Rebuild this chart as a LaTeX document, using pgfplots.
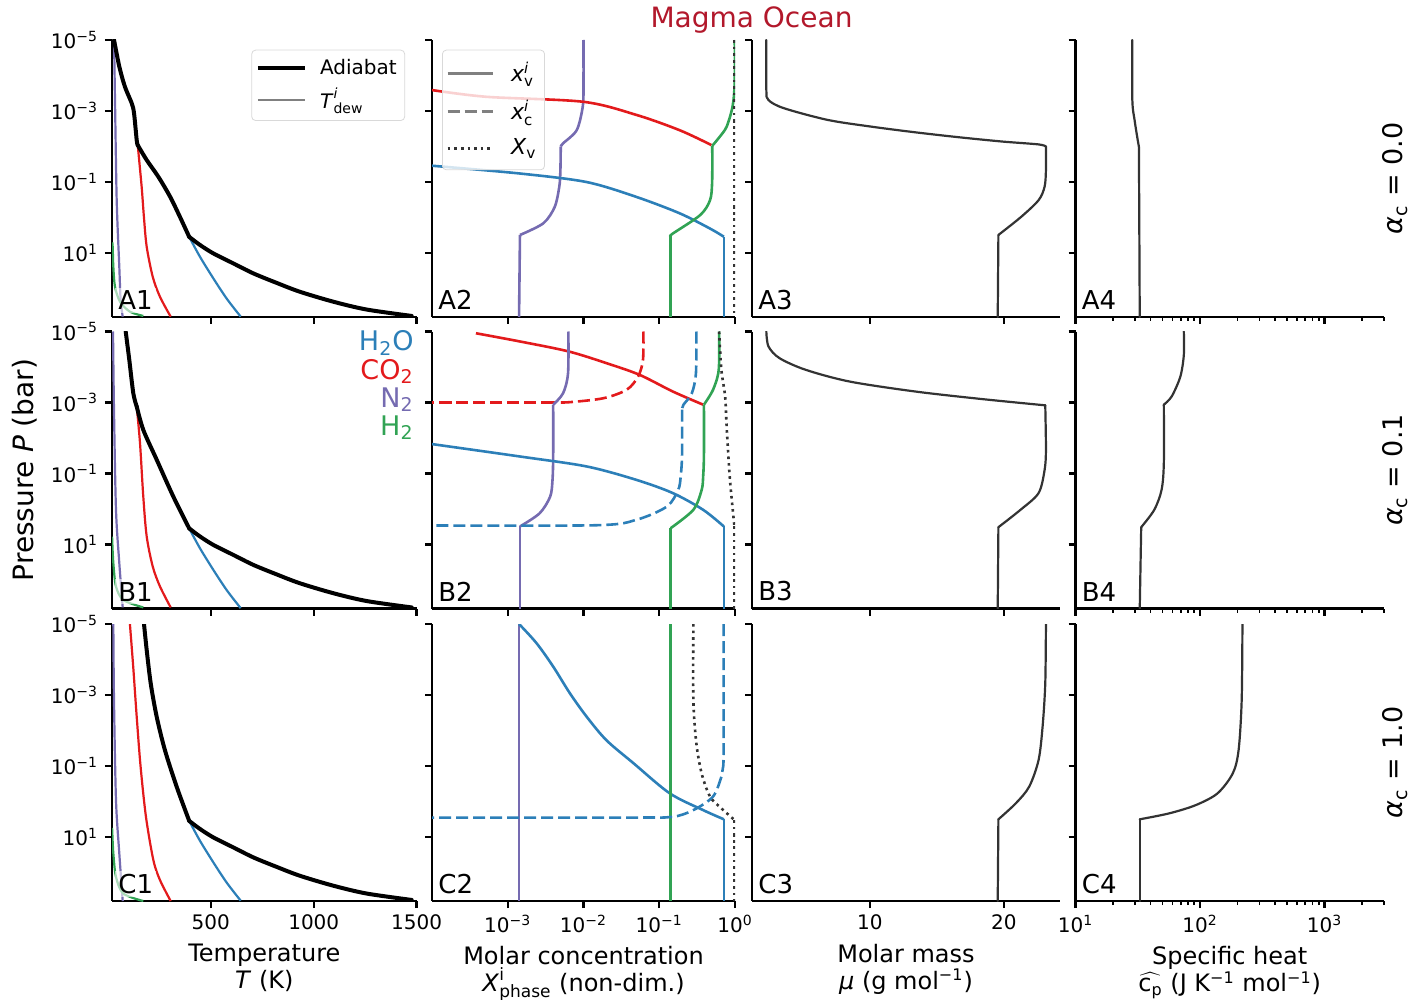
\documentclass[border=0pt]{standalone}
\usepackage{fontspec}
\setmainfont{DejaVu Sans}
\usepackage{pgfplots}
\pgfplotsset{compat=1.18}

\definecolor{cwat}{HTML}{2C7FB8}
\definecolor{cco2}{HTML}{E31A1C}
\definecolor{cn2}{HTML}{756BB1}
\definecolor{ch2}{HTML}{31A354}
\definecolor{ctitle}{HTML}{B2182B}
\definecolor{cdark}{HTML}{333333}

\newcommand{\tk}[1]{10\textsuperscript{#1}}
% symbol with stacked superscript and subscript: {size}{base}{sup}{sub}
\newcommand{\supsub}[4]{\ensuremath{\mbox{#2}^{\mbox{\fontsize{#1}{#1}\selectfont #3}}_{\mbox{\fontsize{#1}{#1}\selectfont #4}}}}

\pgfplotsset{
  every axis/.append style={
    scale only axis, height=138.5pt, anchor=north west,
    axis x line*=bottom, axis y line*=left,
    axis line style={-, line width=1.2pt},
    tick style={black, line width=1.2pt},
    minor tick style={line width=0.9pt},
    major tick length=3.5pt, minor tick length=2pt,
    tick align=outside,
    ymode=log, y dir=reverse, ymin=1e-5, ymax=631,
    ytick={1e-5,1e-3,1e-1,10}, yminorticks=false,
    tick label style={font=\fontsize{10}{12}\selectfont},
    label style={font=\fontsize{12}{13.5}\selectfont, align=center},
    clip mode=individual,
  },
}
\tikzset{
  adi/.style={black, line width=2pt, line join=round, line cap=round, smooth, tension=0.5},
  dew/.style={line width=1.1pt, line join=round, smooth, tension=0.5},
  xv/.style={line width=1.3pt, line join=round, smooth, tension=0.5},
  xc/.style={line width=1.3pt, dash pattern=on 6pt off 2.5pt, smooth, tension=0.5},
  Xv/.style={cdark, line width=1.3pt, dash pattern=on 1.3pt off 2pt, smooth, tension=0.5},
  prof/.style={cdark, line width=1.1pt, line join=round, line cap=round, smooth, tension=0.5},
  plab/.style={anchor=south west, font=\fontsize{13}{15}\selectfont, fill=white,
    fill opacity=0.6, text opacity=1, inner sep=1.5pt, xshift=1.5pt, yshift=2pt},
  rlab/.style={rotate=90, font=\fontsize{13.5}{16}\selectfont},
  spc/.style={anchor=east, font=\fontsize{13.5}{16}\selectfont, inner sep=0pt},
}

\begin{document}
\begin{tikzpicture}
\useasboundingbox (0,0) rectangle (710pt,-500pt);
\node[font=\fontsize{14}{16}\selectfont, text=ctitle] at (375.75pt,-10pt) {Magma Ocean};

% ---------------- row A ----------------
\begin{axis}[at={(56pt,-20pt)}, width=152.35pt, xmin=20, xmax=1500, xtick={500,1000,1500},
  xticklabels={}, yticklabels={\tk{−5},\tk{−3},\tk{−1},\tk{1}},
  legend style={at={(0.962,0.965)}, anchor=north east, draw=black!15, rounded corners=2pt,
    fill=white, fill opacity=0.8, text opacity=1, draw opacity=1,
    font=\fontsize{10}{12}\selectfont, row sep=1.5pt, inner ysep=2.5pt, inner xsep=2pt,
    cells={anchor=west}},
  legend image code/.code={\draw[#1] (0pt,0pt) -- (23.5pt,0pt); \path (28pt,0pt);}]
\addlegendimage{black, line width=2.2pt}\addlegendentry{Adiabat}
\addlegendimage{gray, line width=1.2pt}\addlegendentry{\supsub{7}{\textit{T}}{\textit{i}}{dew}}
\addplot[dew, cwat] coordinates {(395,3.5) (447,12.6) (512,51.3) (577,191) (645,617)};
\addplot[dew, cco2] coordinates {(145,9.12e-3) (164,0.135) (175,0.955) (188.5,6.61) (218,46.8) (253,170) (305,617)};
\addplot[dew, cn2] coordinates {(30,1e-5) (34.6,4.9e-4) (42.8,0.324) (55.5,24.5) (62,209) (72,617)};
\addplot[dew, ch2] coordinates {(21,5.0) (23.3,6.61) (26.5,24.5) (34.6,89.1) (59,234) (107,447) (172,589)};
\addplot[adi] coordinates {(30,1e-5) (55.5,5.62e-5) (83,2.09e-4) (115.7,6.03e-4) (127,1.15e-3) (140,6.61e-3) (145,9.12e-3)};
\addplot[adi] coordinates {(145,9.12e-3) (188.5,2.40e-2) (245,7.08e-2) (302,0.257) (350,0.955) (395,3.5)};
\addplot[adi] coordinates {(395,3.5) (447,5.89) (512,10.2) (609,19.5) (706,37.2) (820,69.2) (933,123) (1095,234) (1257,389) (1476,589)};
\node[plab] at (axis description cs:0,0) {A1};
\end{axis}

\begin{axis}[at={(216pt,-20pt)}, width=151.5pt, xmode=log, xmin=1e-4, xmax=1,
  xtick={1e-3,1e-2,1e-1,1}, xminorticks=false, xticklabels={}, yticklabels={},
  legend style={at={(0.033,0.965)}, anchor=north west, draw=black!15, rounded corners=2pt,
    fill=white, fill opacity=0.8, text opacity=1, draw opacity=1,
    font=\fontsize{11}{13}\selectfont, row sep=4pt, inner ysep=4pt, inner xsep=2pt,
    cells={anchor=west}},
  legend image code/.code={\draw[#1] (0pt,0pt) -- (22.5pt,0pt); \path (29pt,0pt);}]
\addlegendimage{gray, line width=1.3pt}\addlegendentry{\supsub{7.5}{\textit{x}}{\textit{i}}{v}\hspace{5pt}}
\addlegendimage{gray, line width=1.3pt, dash pattern=on 6pt off 2.5pt}\addlegendentry{\supsub{7.5}{\textit{x}}{\textit{i}}{c}\hspace{5pt}}
\addlegendimage{cdark, line width=1.3pt, dash pattern=on 1.3pt off 2pt}\addlegendentry{\textit{X}\textsubscript{v}\hspace{5pt}}
\addplot[xv, cn2] coordinates {(0.0100,1e-5) (0.0100,2e-4) (0.00977,7.59e-4) (0.00813,3.47e-3) (0.00537,8.13e-3) (0.00501,1e-2)};
\addplot[xv, cn2] coordinates {(0.00501,1e-2) (0.00495,5e-2) (0.00479,0.135) (0.00417,0.501) (0.00295,1.45) (0.00145,3.09)};
\addplot[xv, cn2] coordinates {(0.00145,3.09) (0.00141,631)};
\addplot[xv, cco2] coordinates {(1e-4,2.57e-4) (5.25e-4,3.98e-4) (0.0100,5.50e-4) (0.0501,1.29e-3) (0.186,3.47e-3) (0.490,9.12e-3)};
\addplot[xv, cwat] coordinates {(1e-4,3.47e-2) (1.45e-3,5.75e-2) (0.011,0.1) (0.0501,0.263) (0.186,0.759) (0.468,2.04) (0.713,3.47)};
\addplot[xv, cwat] coordinates {(0.713,3.47) (0.713,631)};
\addplot[xv, ch2] coordinates {(0.993,1e-5) (0.99,1.66e-4) (0.927,7.59e-4) (0.776,2.75e-3) (0.631,5.25e-3) (0.501,9.55e-3)};
\addplot[xv, ch2] coordinates {(0.501,9.55e-3) (0.499,0.1) (0.468,0.324) (0.347,0.851) (0.151,2.82) (0.141,3.31)};
\addplot[xv, ch2] coordinates {(0.141,3.31) (0.141,631)};
\addplot[Xv] coordinates {(0.985,1e-5) (0.985,631)};
\node[plab] at (axis description cs:0,0) {A2};
\end{axis}

\begin{axis}[at={(376pt,-20pt)}, width=154pt, xmin=1.2, xmax=24.2, xtick={10,20},
  xticklabels={}, yticklabels={}]
\addplot[prof] coordinates {(2.27,1e-5) (2.27,2.5e-4) (2.43,4.90e-4) (3.58,8.32e-4) (6.85,1.78e-3) (10.1,2.75e-3) (13.4,3.98e-3) (16.7,5.50e-3) (19.9,7.24e-3) (22.6,8.71e-3) (23.15,1e-2)};
\addplot[prof] coordinates {(23.15,1e-2) (23.15,4.57e-2) (23.05,0.135) (22.6,0.324) (21.3,0.955) (19.6,3.09)};
\addplot[prof] coordinates {(19.6,3.09) (19.55,631)};
\node[plab] at (axis description cs:0,0) {A3};
\end{axis}

\begin{axis}[at={(537.75pt,-20pt)}, width=154.25pt, xmode=log, xmin=10, xmax=3000,
  xtick={10,100,1000},
  minor xtick={20,30,40,50,60,70,80,90,200,300,400,500,600,700,800,900,2000,3000},
  xticklabels={}, yticklabels={}]
\addplot[prof] coordinates {(28.6,1e-5) (28.6,4.9e-4) (29.8,1.78e-3) (31.6,6.61e-3) (32.3,1e-2)};
\addplot[prof] coordinates {(32.3,1e-2) (32.8,631)};
\node[plab] at (axis description cs:0,0) {A4};
\node[rlab] at (axis description cs:1.036,0.5) {\textit{α}\textsubscript{c} = 0.0};
\end{axis}

% ---------------- row B ----------------
\begin{axis}[at={(56pt,-165.75pt)}, width=152.35pt, xmin=20, xmax=1500, xtick={500,1000,1500},
  xticklabels={}, yticklabels={\tk{−5},\tk{−3},\tk{−1},\tk{1}},
  ylabel={Pressure \textit{P} (bar)},
  ylabel style={font=\fontsize{14}{16}\selectfont}]
\addplot[dew, cwat] coordinates {(395,3.5) (447,12.6) (512,51.3) (577,191) (645,617)};
\addplot[dew, cco2] coordinates {(140,1.29e-3) (156,1.38e-2) (172,0.447) (188.5,5.89) (218,41.7) (253,151) (305,589)};
\addplot[dew, cn2] coordinates {(25,1e-5) (29.7,1.62e-3) (39.4,1.05) (55.5,33.1) (72,589)};
\addplot[dew, ch2] coordinates {(20.5,6.0) (21.6,9.12) (26.5,33.1) (39.4,151) (75,363) (172,589)};
\addplot[adi] coordinates {(86.5,1e-5) (104,6.3e-5) (123.5,5.50e-4) (140,1.29e-3)};
\addplot[adi] coordinates {(140,1.29e-3) (172,5.89e-3) (237,4.07e-2) (318,0.447) (395,3.5)};
\addplot[adi] coordinates {(395,3.5) (447,5.89) (512,10.2) (609,19.5) (706,37.2) (820,69.2) (933,123) (1095,234) (1257,389) (1476,589)};
\node[plab] at (axis description cs:0,0) {B1};
\node[spc, text=cwat] at (axis description cs:0.991,0.959) {H\textsubscript{2}O};
\node[spc, text=cco2] at (axis description cs:0.991,0.855) {CO\textsubscript{2}};
\node[spc, text=cn2] at (axis description cs:0.991,0.753) {N\textsubscript{2}};
\node[spc, text=ch2] at (axis description cs:0.991,0.652) {H\textsubscript{2}};
\end{axis}

\begin{axis}[at={(216pt,-165.75pt)}, width=151.5pt, xmode=log, xmin=1e-4, xmax=1,
  xtick={1e-3,1e-2,1e-1,1}, xminorticks=false, xticklabels={}, yticklabels={}]
\addplot[xv, cco2] coordinates {(3.80e-4,1.12e-5) (1.45e-3,1.91e-5) (6.31e-3,3.63e-5) (0.0200,7.76e-5) (0.0550,1.66e-4) (0.151,4.90e-4) (0.380,1.15e-3)};
\addplot[xc, cco2] coordinates {(0.0617,1e-5) (0.0610,6.31e-5) (0.0525,1.86e-4) (0.0372,4.37e-4) (0.0182,7.59e-4) (6.61e-3,9.77e-4) (3.98e-3,1e-3)};
\addplot[xc, cco2] coordinates {(3.98e-3,1e-3) (1e-4,1e-3)};
\addplot[xv, cn2] coordinates {(6.31e-3,1e-5) (6.25e-3,1.5e-4) (5.37e-3,5.50e-4) (3.98e-3,1.15e-3)};
\addplot[xv, cn2] coordinates {(3.98e-3,1.15e-3) (3.98e-3,3e-2) (3.9e-3,0.15) (3.63e-3,0.447) (2.63e-3,1.32) (1.45e-3,3.09)};
\addplot[xv, cn2] coordinates {(1.45e-3,3.09) (1.45e-3,631)};
\addplot[xv, cwat] coordinates {(1e-4,1.48e-2) (1.45e-3,3.31e-2) (0.011,6.31e-2) (0.0501,0.151) (0.151,0.355) (0.380,1.05) (0.713,3.09)};
\addplot[xv, cwat] coordinates {(0.713,3.09) (0.713,631)};
\addplot[xc, cwat] coordinates {(0.309,1e-5) (0.305,1.5e-4) (0.269,5.50e-4) (0.209,1.15e-3) (0.200,1.58e-3)};
\addplot[xc, cwat] coordinates {(0.200,1.58e-3) (0.200,3e-2) (0.192,0.12) (0.178,0.288) (0.126,0.851) (0.0501,2.0) (0.015,2.85) (1e-4,2.9)};
\addplot[xv, ch2] coordinates {(0.617,1e-5) (0.610,1.20e-4) (0.513,4.37e-4) (0.389,1.15e-3)};
\addplot[xv, ch2] coordinates {(0.389,1.15e-3) (0.389,3e-2) (0.380,0.12) (0.363,0.288) (0.282,1.05) (0.141,3.47)};
\addplot[xv, ch2] coordinates {(0.141,3.47) (0.141,631)};
\addplot[Xv] coordinates {(0.617,1e-5) (0.661,1.20e-4) (0.741,6.76e-4) (0.776,4.79e-3) (0.851,0.120) (0.944,1.32) (0.985,3.09)};
\addplot[Xv] coordinates {(0.985,3.09) (0.985,631)};
\node[plab] at (axis description cs:0,0) {B2};
\end{axis}

\begin{axis}[at={(376pt,-165.75pt)}, width=154pt, xmin=1.2, xmax=24.2, xtick={10,20},
  xticklabels={}, yticklabels={}]
\addplot[prof] coordinates {(2.27,1e-5) (2.43,2.63e-5) (3.25,5.62e-5) (5.21,1.20e-4) (8.5,2.57e-4) (13.4,4.90e-4) (18.3,7.94e-4) (23.1,1.20e-3)};
\addplot[prof] coordinates {(23.1,1.20e-3) (23.15,2.14e-2) (23.05,7.94e-2) (22.6,0.355) (21.25,1.05) (19.6,3.24)};
\addplot[prof] coordinates {(19.6,3.24) (19.55,631)};
\node[plab] at (axis description cs:0,0) {B3};
\end{axis}

\begin{axis}[at={(537.75pt,-165.75pt)}, width=154.25pt, xmode=log, xmin=10, xmax=3000,
  xtick={10,100,1000},
  minor xtick={20,30,40,50,60,70,80,90,200,300,400,500,600,700,800,900,2000,3000},
  xticklabels={}, yticklabels={}]
\addplot[prof] coordinates {(74.1,1e-5) (74.1,4.57e-5) (69.5,1.86e-4) (59.2,6.76e-4) (51.2,1.15e-3)};
\addplot[prof] coordinates {(51.2,1.15e-3) (51.2,5.13e-2) (49.1,0.288) (42.9,1.05) (33.7,3.24)};
\addplot[prof] coordinates {(33.7,3.24) (32.8,631)};
\node[plab] at (axis description cs:0,0) {B4};
\node[rlab] at (axis description cs:1.036,0.5) {\textit{α}\textsubscript{c} = 0.1};
\end{axis}

% ---------------- row C ----------------
\begin{axis}[at={(56pt,-312pt)}, width=152.35pt, xmin=20, xmax=1500, xtick={500,1000,1500},
  xticklabels={500,1000,1500}, yticklabels={\tk{−5},\tk{−3},\tk{−1},\tk{1}},
  xlabel={Temperature\\\textit{T} (K)}]
\addplot[dew, cwat] coordinates {(395,3.5) (447,12.6) (512,51.3) (577,191) (645,617)};
\addplot[dew, cco2] coordinates {(107,1e-5) (123,1.58e-4) (140,4.07e-3) (159,0.105) (185,2.69) (221,44.7) (253,162) (305,631)};
\addplot[dew, cn2] coordinates {(26.5,1e-5) (29.7,1.38e-3) (39.4,0.912) (55.5,28.8) (72,631)};
\addplot[dew, ch2] coordinates {(20.5,5.5) (21.6,7.94) (26.5,28.8) (39.4,132) (75,389) (172,631)};
\addplot[adi] coordinates {(175.4,1e-5) (188.5,5.37e-5) (208,4.68e-4) (237,4.07e-3) (277,3.55e-2) (334,0.380) (395,3.5)};
\addplot[adi] coordinates {(395,3.5) (447,5.89) (512,10.2) (609,19.5) (706,37.2) (820,69.2) (933,123) (1095,234) (1257,389) (1476,589)};
\node[plab] at (axis description cs:0,0) {C1};
\end{axis}

\begin{axis}[at={(216pt,-312pt)}, width=151.5pt, xmode=log, xmin=1e-4, xmax=1,
  xtick={1e-3,1e-2,1e-1,1}, xminorticks=false, yticklabels={},
  xticklabels={\tk{−3},\tk{−2},\tk{−1},\tk{0}},
  xlabel={Molar concentration\\\supsub{8.5}{\textit{X}}{i}{phase} (non-dim.)}]
\addplot[xv, cn2] coordinates {(1.41e-3,1e-5) (1.41e-3,631)};
\addplot[xv, cwat] coordinates {(1.41e-3,1e-5) (2.40e-3,3.47e-5) (3.98e-3,1.58e-4) (6.61e-3,8.91e-4) (0.011,4.07e-3) (0.0200,1.86e-2) (0.0457,8.32e-2) (0.138,0.589) (0.380,1.74) (0.713,3.16)};
\addplot[xv, cwat] coordinates {(0.713,3.16) (0.713,631)};
\addplot[xv, ch2] coordinates {(0.141,1e-5) (0.141,631)};
\addplot[xc, cwat] coordinates {(0.708,1e-5) (0.708,3.55e-2) (0.690,0.12) (0.661,0.2) (0.513,0.724) (0.282,1.74) (0.151,2.69) (0.05,2.82) (1e-4,2.82)};
\addplot[Xv] coordinates {(0.282,1e-5) (0.282,1.38e-3) (0.309,2.29e-2) (0.363,0.162) (0.468,0.724) (0.661,1.55) (0.985,3.31)};
\addplot[Xv] coordinates {(0.985,3.31) (0.985,631)};
\node[plab] at (axis description cs:0,0) {C2};
\end{axis}

\begin{axis}[at={(376pt,-312pt)}, width=154pt, xmin=1.2, xmax=24.2, xtick={10,20},
  xticklabels={10,20}, yticklabels={},
  xlabel={Molar mass\\\textit{μ} (g mol\textsuperscript{−1})}]
\addplot[prof] coordinates {(23.15,1e-5) (23.1,4.68e-4) (22.9,7.76e-3) (22.6,6.76e-2) (21.9,0.380) (20.9,1.12) (19.6,3.16)};
\addplot[prof] coordinates {(19.6,3.16) (19.55,631)};
\node[plab] at (axis description cs:0,0) {C3};
\end{axis}

\begin{axis}[at={(537.75pt,-312pt)}, width=154.25pt, xmode=log, xmin=10, xmax=3000,
  xtick={10,100,1000},
  minor xtick={20,30,40,50,60,70,80,90,200,300,400,500,600,700,800,900,2000,3000},
  xticklabels={\tk{1},\tk{2},\tk{3}}, yticklabels={},
  xlabel={Specific heat\\\ensuremath{\widehat{\hbox{c\textsubscript{p}}}} (J K\textsuperscript{−1} mol\textsuperscript{−1})}]
\addplot[prof] coordinates {(219,1e-5) (216,1.38e-3) (204,3.55e-2) (183,0.162) (138,0.589) (92.3,1.26) (56.8,2.14) (32.8,3.16)};
\addplot[prof] coordinates {(32.8,3.16) (32.8,631)};
\node[plab] at (axis description cs:0,0) {C4};
\node[rlab] at (axis description cs:1.036,0.5) {\textit{α}\textsubscript{c} = 1.0};
\end{axis}
\end{tikzpicture}
\end{document}
